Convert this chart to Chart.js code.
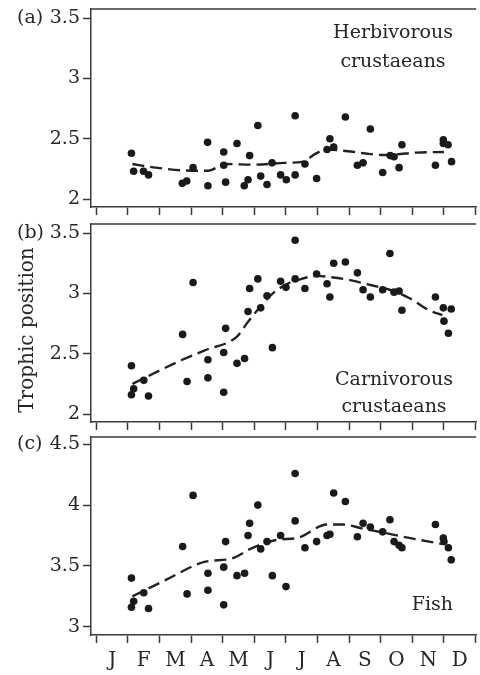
<!DOCTYPE html>
<html>
<head>
<meta charset="utf-8">
<script src="https://cdn.jsdelivr.net/npm/chart.js@4"></script>
<style>
  body { margin: 0; background: #fff; width: 480px; height: 675px; overflow: hidden; position: relative; }
  canvas { position: absolute; left: 0; }
</style>
</head>
<body>
<canvas id="herb-chart" style="top:0px" width="480" height="220"></canvas>
<canvas id="carn-chart" style="top:220px" width="480" height="210"></canvas>
<canvas id="fish-chart" style="top:430px" width="480" height="245"></canvas>
<script>
const months = ["J", "F", "M", "A", "M", "J", "J", "A", "S", "O", "N", "D"];

// (a) herbivorous crustaceans, x in months since 1 January
const herbMonth = [1.11, 1.18, 1.49, 1.65, 2.72, 2.86, 3.06, 3.52, 3.53, 4.03, 4.03, 4.09, 4.45, 4.68, 4.80,
  4.85, 5.11, 5.20, 5.40, 5.56, 5.83, 6.01, 6.29, 6.29, 6.60, 6.97, 7.30, 7.39, 7.51, 7.88, 8.26, 8.44,
  8.67, 9.06, 9.30, 9.42, 9.58, 9.67, 10.73, 10.98, 10.98, 11.13, 11.24];
const herbTP = [2.38, 2.23, 2.23, 2.20, 2.13, 2.15, 2.26, 2.47, 2.11, 2.39, 2.28, 2.14, 2.46, 2.11, 2.16,
  2.36, 2.61, 2.19, 2.12, 2.30, 2.20, 2.16, 2.69, 2.20, 2.29, 2.17, 2.41, 2.50, 2.43, 2.68, 2.28, 2.30,
  2.58, 2.22, 2.36, 2.35, 2.26, 2.45, 2.28, 2.49, 2.46, 2.45, 2.31];
const herbTrendMonth = [1.14, 1.89, 3.03, 3.55, 4.07, 5.01, 5.95, 6.55, 6.90, 7.30, 7.82, 8.45, 9.07, 9.49, 10.12, 11.0];
const herbTrendTP = [2.29, 2.26, 2.235, 2.235, 2.29, 2.285, 2.30, 2.31, 2.37, 2.41, 2.40, 2.38, 2.365, 2.37, 2.385, 2.39];

// (b) carnivorous crustaceans
const carnMonth = [1.11, 1.18, 1.11, 1.50, 1.65, 2.73, 2.87, 3.06, 3.53, 3.53, 4.03, 4.09, 4.03, 4.45, 4.69,
  4.80, 4.85, 5.11, 5.20, 5.40, 5.57, 5.83, 6.00, 6.29, 6.29, 6.60, 6.97, 7.30, 7.39, 7.51, 7.88, 8.26,
  8.44, 8.67, 9.06, 9.29, 9.42, 9.58, 9.67, 10.73, 10.98, 11.00, 11.14, 11.23];
const carnTP = [2.40, 2.21, 2.16, 2.28, 2.15, 2.66, 2.27, 3.09, 2.45, 2.30, 2.51, 2.71, 2.18, 2.42, 2.46,
  2.85, 3.04, 3.12, 2.88, 2.98, 2.55, 3.10, 3.05, 3.44, 3.12, 3.04, 3.16, 3.08, 2.97, 3.25, 3.26, 3.17,
  3.03, 2.97, 3.03, 3.33, 3.01, 3.02, 2.86, 2.97, 2.88, 2.77, 2.67, 2.87];
const carnTrendMonth = [1.14, 2.72, 3.45, 4.44, 4.80, 5.22, 5.63, 6.05, 6.36, 6.99, 7.40, 8.03, 8.66, 9.28, 9.91, 10.53, 10.95];
const carnTrendTP = [2.25, 2.45, 2.53, 2.64, 2.765, 2.90, 3.01, 3.08, 3.11, 3.145, 3.135, 3.11, 3.07, 3.03, 2.96, 2.86, 2.82];

// (c) fish
const fishMonth = carnMonth;
const fishTP = [3.40, 3.21, 3.16, 3.28, 3.15, 3.66, 3.27, 4.08, 3.44, 3.30, 3.49, 3.70, 3.18, 3.42, 3.44,
  3.75, 3.85, 4.00, 3.64, 3.70, 3.42, 3.75, 3.33, 4.26, 3.87, 3.65, 3.70, 3.75, 3.76, 4.10, 4.03, 3.74,
  3.85, 3.82, 3.78, 3.88, 3.70, 3.67, 3.65, 3.84, 3.73, 3.70, 3.65, 3.55];
const fishTrendMonth = [1.14, 2.2, 3.45, 4.28, 4.91, 5.74, 6.36, 7.30, 7.82, 8.45, 9.07, 9.70, 10.53, 10.95];
const fishTrendTP = [3.25, 3.385, 3.535, 3.56, 3.645, 3.715, 3.73, 3.84, 3.84, 3.805, 3.775, 3.74, 3.70, 3.68];

const crustTicks = [2, 2.5, 3, 3.5];
const fishTicks = [3, 3.5, 4, 4.5];

const INK = "#262626";
const AXIS = "#3a3a3a";
const FONT = "'DejaVu Serif', serif";

// ticks at month boundaries, labels in the middle of each month
const monthTicks = months.flatMap((m, i) => [i, i + 0.5]).concat(12);

function toPoints(xs, ys) {
  return xs.map((x, i) => ({ x: x, y: ys[i] }));
}

const panelText = {
  id: "panelText",
  afterDraw(chart, args, opts) {
    const ctx = chart.ctx;
    const area = chart.chartArea;
    const y = chart.scales.y;
    ctx.save();
    // top edge of the box
    ctx.strokeStyle = AXIS;
    ctx.lineWidth = 1.5;
    ctx.beginPath();
    ctx.moveTo(area.left - 0.75, area.top);
    ctx.lineTo(area.right, area.top);
    ctx.stroke();

    ctx.fillStyle = INK;
    ctx.font = "19px " + FONT;
    ctx.textBaseline = "middle";
    ctx.textAlign = "left";
    ctx.fillText(opts.letter, 17, y.getPixelForValue(y.ticks[y.ticks.length - 1].value));
    opts.notes.forEach((n) => {
      ctx.textAlign = n.align || "center";
      ctx.fillText(n.text, n.x, n.y);
    });
    if (opts.yTitle) {
      ctx.font = "20px " + FONT;
      ctx.translate(28, 110);
      ctx.rotate(-Math.PI / 2);
      ctx.textAlign = "center";
      ctx.fillText(opts.yTitle, 0, 0);
    }
    ctx.restore();
  },
};

function makePanel(id, pts, trend, yMin, yMax, yTicks, padTop, xHeight, showMonths, text) {
  return new Chart(document.getElementById(id).getContext("2d"), {
    type: "scatter",
    data: {
      datasets: [
        {
          data: pts,
          backgroundColor: "#1a1a1a",
          borderWidth: 0,
          pointRadius: 3.8,
          pointHoverRadius: 3.8,
        },
        {
          data: trend,
          showLine: true,
          borderColor: "#222",
          borderWidth: 2.4,
          borderDash: [12, 6],
          pointRadius: 0,
          cubicInterpolationMode: "monotone",
        },
      ],
    },
    options: {
      responsive: false,
      animation: false,
      layout: { padding: { top: padTop, left: 0, right: 0, bottom: 0 } },
      plugins: { legend: { display: false }, tooltip: { enabled: false }, panelText: text },
      scales: {
        x: {
          type: "linear",
          min: -0.17,
          max: 12.02,
          afterBuildTicks: (s) => {
            s.ticks = monthTicks.map((v) => ({ value: v }));
          },
          afterFit: (s) => {
            s.height = xHeight;
            s.paddingLeft = 0;
            s.paddingRight = 0;
          },
          grid: {
            drawOnChartArea: false,
            tickLength: 8,
            tickWidth: 1.5,
            tickColor: (c) => (c.tick && Number.isInteger(c.tick.value) ? AXIS : "rgba(0,0,0,0)"),
          },
          border: { color: AXIS, width: 1.5 },
          ticks: {
            display: showMonths,
            autoSkip: false,
            maxRotation: 0,
            padding: 6,
            color: INK,
            font: { family: FONT, size: 20 },
            callback: (v) => (Number.isInteger(v) ? "" : months[Math.floor(v)]),
          },
        },
        y: {
          min: yMin,
          max: yMax,
          afterBuildTicks: (s) => {
            s.ticks = yTicks.map((v) => ({ value: v }));
          },
          afterFit: (s) => {
            s.width = 91;
            s.paddingTop = 0;
            s.paddingBottom = 0;
          },
          grid: { drawOnChartArea: false, tickLength: 8, tickWidth: 1.5, tickColor: AXIS },
          border: { color: AXIS, width: 1.5 },
          ticks: {
            padding: 3,
            color: INK,
            font: { family: FONT, size: 19 },
            callback: (v) => String(v),
          },
        },
      },
    },
    plugins: [panelText],
  });
}

function main() {
  makePanel("herb-chart", toPoints(herbMonth, herbTP), toPoints(herbTrendMonth, herbTrendTP),
    1.934, 3.575, crustTicks, 9, 13, false, {
      letter: "(a)",
      notes: [
        { text: "Herbivorous", x: 393, y: 33 },
        { text: "crustaeans", x: 393, y: 62 },
      ],
    });
  makePanel("carn-chart", toPoints(carnMonth, carnTP), toPoints(carnTrendMonth, carnTrendTP),
    1.934, 3.575, crustTicks, 4, 8, false, {
      letter: "(b)",
      yTitle: "Trophic position",
      notes: [
        { text: "Carnivorous", x: 394, y: 160 },
        { text: "crustaeans", x: 394, y: 187 },
      ],
    });
  makePanel("fish-chart", toPoints(fishMonth, fishTP), toPoints(fishTrendMonth, fishTrendTP),
    2.932, 4.56, fishTicks, 7, 40, true, {
      letter: "(c)",
      notes: [{ text: "Fish", x: 453, y: 175, align: "right" }],
    });
}

main();
</script>
</body>
</html>
